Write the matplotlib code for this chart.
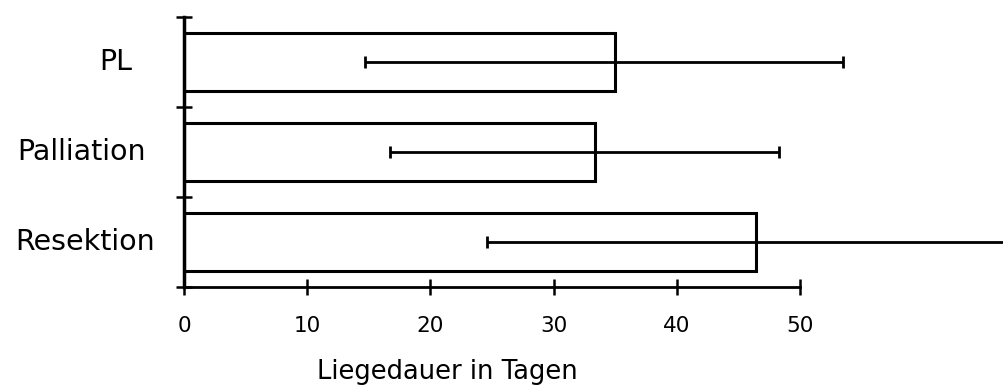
import matplotlib.pyplot as plt
import numpy as np

# Liegedauer je Gruppe (Mittelwert und Streubereich in Tagen)
groups = ["Resektion", "Palliation", "PL"]
mean_days = [46.4, 33.4, 35.0]
low_days = [24.6, 16.7, 14.7]
high_days = [70.0, 48.3, 53.5]
xticks = [0, 10, 20, 30, 40, 50]

plt.rcParams['font.family'] = ['DejaVu Sans']

fig = plt.figure(figsize=(10.04, 3.9), dpi=100)
ax = fig.add_axes([184 / 1004, 1 - 287 / 390, 616 / 1004, 270 / 390])

y = np.arange(len(groups))
mean = np.array(mean_days)
err = np.array([mean - np.array(low_days), np.array(high_days) - mean])

ax.barh(y, mean, height=0.64, color="white", edgecolor="black", linewidth=2.2, zorder=2)
ax.errorbar(mean, y, xerr=err, fmt="none", ecolor="black", elinewidth=2.0,
            capsize=4.5, capthick=2.0, zorder=3, clip_on=False)

ax.set_xlim(0, 50)
ax.set_ylim(-0.5, 2.5)
ax.set_xticks(xticks)
ax.set_yticks([-0.5, 0.5, 1.5, 2.5])
ax.set_yticklabels([])

for side in ("top", "right"):
    ax.spines[side].set_visible(False)
ax.spines["left"].set_linewidth(2.5)
ax.spines["bottom"].set_linewidth(2.0)
ax.tick_params(axis="both", direction="inout", length=12, width=1.8)
ax.tick_params(axis="x", labelsize=15.5, pad=15)

# Gruppennamen links der Achse
label_x = [-8.0, -8.3, -5.5]
for yi, name, lx in zip(y, groups, label_x):
    ax.text(lx, yi, name, ha="center", va="center", fontsize=20.5, clip_on=False)

ax.set_xlabel("Liegedauer in Tagen", fontsize=18.5)
ax.xaxis.set_label_coords(0.427, -0.265)

fig.savefig("out.png", dpi=100)
